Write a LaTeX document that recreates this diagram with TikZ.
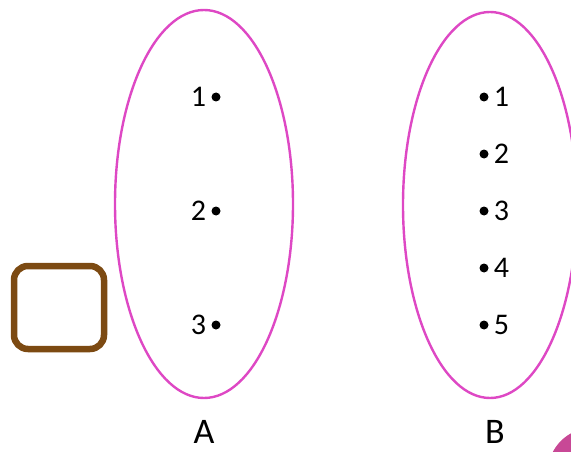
\documentclass[tikz,border=0pt]{standalone}
\usepackage{fontspec}
\setmainfont{Carlito}
\definecolor{setpink}{RGB}{222,72,196}
\definecolor{blobpink}{RGB}{200,72,150}
\definecolor{boxbrown}{RGB}{124,74,18}
\begin{document}
\begin{tikzpicture}[x=1pt, y=-1pt]
        \useasboundingbox (0,0) rectangle (571,452);
        \tikzset{elt/.style={circle, fill=black, inner sep=0pt, minimum size=9pt}}
        
        \draw[setpink, line width=2.4pt] (204,204) ellipse [x radius=89, y radius=194];
        \draw[setpink, line width=2.4pt] (490,205) ellipse [x radius=87, y radius=193];
        \draw[boxbrown, line width=6.5pt, rounded corners=14pt] (14,266) rectangle (104,349);
        \fill[blobpink] (592,472) circle (44);
        
        \foreach \i/\y in {1/97, 2/211, 3/325}
            \node[elt, label={[font=\fontsize{30}{34}\selectfont, inner sep=5pt]left:\i}] (a\i) at (216,\y) {};
        \foreach \i/\y in {1/97, 2/154, 3/211, 4/268, 5/325}
            \node[elt, label={[font=\fontsize{30}{34}\selectfont, inner sep=5pt]right:\i}] (b\i) at (484,\y) {};
        
        \node[font=\fontsize{36}{40}\selectfont, inner sep=0pt] (A) at (204,432) {A};
        \node[font=\fontsize{36}{40}\selectfont, inner sep=0pt] (B) at (495,432) {B};
        
    \end{tikzpicture}
\end{document}
